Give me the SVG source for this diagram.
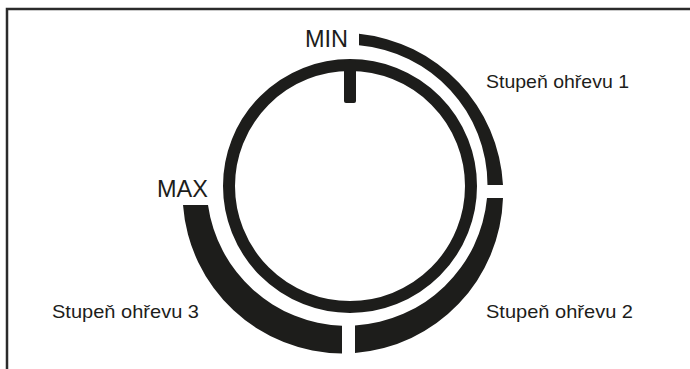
<svg xmlns="http://www.w3.org/2000/svg" width="690" height="369" viewBox="0 0 690 369">
<style>
.ink{fill:#1d1d1b}
.lbl{font-family:"Liberation Sans",Arial,sans-serif;fill:#1d1d1b}
.big{font-size:23.5px}
.sm{font-size:19px}
</style>
<rect width="690" height="369" fill="#ffffff"/>
<path d="M7 369 V9 H690" fill="none" stroke="#2b2b2b" stroke-width="2.5"/>
<g id="dial">
<circle cx="350" cy="186" r="121" fill="none" stroke="#1d1d1b" stroke-width="12"/>
<rect class="ink" x="344" y="60" width="12" height="43" rx="2"/>
</g>
<g id="connectors">
<path id="stage1" class="ink" d="M359 33.8 A160.5 160.5 0 0 1 503 185 L487.5 185 A140.5 140.5 0 0 0 359 45.3 Z"/>
<path id="stage2" class="ink" d="M503 198 A160.5 160.5 0 0 1 355 353 L355 325.4 A140.5 140.5 0 0 0 487 198 Z"/>
<path id="stage3" class="ink" d="M342 353.5 A160.5 160.5 0 0 1 183 205 L208 205 A140.5 140.5 0 0 0 342 325.8 Z"/>
</g>
<g id="labels">
<text class="lbl big" x="305" y="47">MIN</text>
<text class="lbl big" x="157" y="197">MAX</text>
<text class="lbl sm" x="486" y="88" textLength="143" lengthAdjust="spacingAndGlyphs">Stupeň ohřevu 1</text>
<text class="lbl sm" x="486" y="318" textLength="147" lengthAdjust="spacingAndGlyphs">Stupeň ohřevu 2</text>
<text class="lbl sm" x="52" y="318" textLength="147" lengthAdjust="spacingAndGlyphs">Stupeň ohřevu 3</text>
</g>
</svg>
